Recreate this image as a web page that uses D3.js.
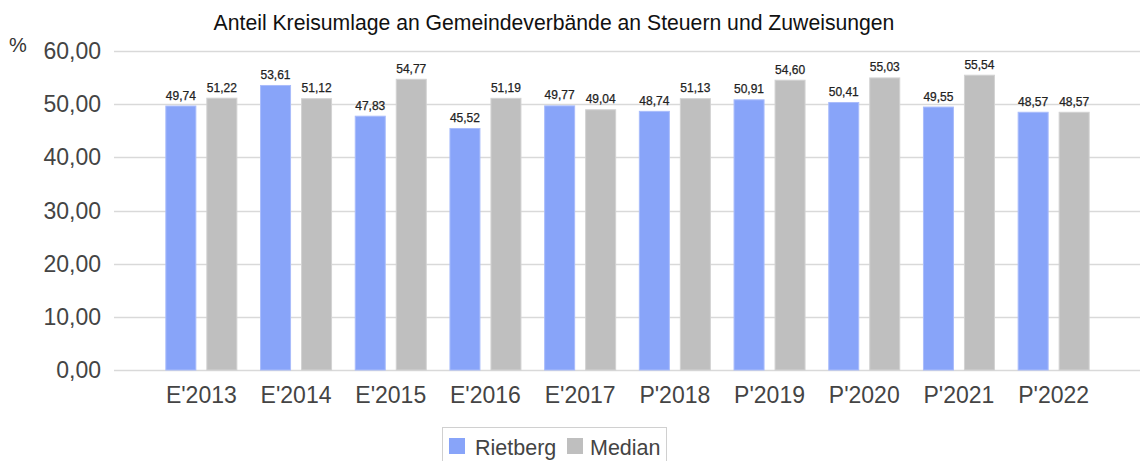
<!DOCTYPE html>
<html>
<head>
<meta charset="utf-8">
<script src="https://cdn.jsdelivr.net/npm/d3@7"></script>
<style>
  html, body { margin: 0; padding: 0; background: #fff; }
  svg { display: block; }
</style>
</head>
<body>
<svg id="chart" width="1140" height="461"></svg>
<script>
const categories = ["E'2013","E'2014","E'2015","E'2016","E'2017","P'2018","P'2019","P'2020","P'2021","P'2022"];
const rietberg = [49.74, 53.61, 47.83, 45.52, 49.77, 48.74, 50.91, 50.41, 49.55, 48.57];
const median   = [51.22, 51.12, 54.77, 51.19, 49.04, 51.13, 54.60, 55.03, 55.54, 48.57];
const seriesNames = ["Rietberg", "Median"];
const yTicks = [0, 10, 20, 30, 40, 50, 60];
const title = "Anteil Kreisumlage an Gemeindeverbände an Steuern und Zuweisungen";

const colors = { Rietberg: "#88a4f9", Median: "#bfbfbf" };
const strokes = { Rietberg: "#a9bcfb", Median: "#d2d2d2" };
const fmt = v => v.toFixed(2).replace(".", ",");

const svg = d3.select("#chart");
const font = "'Liberation Sans', Arial, sans-serif";

const y = d3.scaleLinear().domain([0, 60]).range([370, 51]);
const x = d3.scaleBand().domain(categories).range([154, 1101]).paddingInner(0).paddingOuter(0);
const xs = d3.scaleBand().domain(seriesNames).range([0, 72]).paddingInner(0.244);
const gridX0 = 114, gridX1 = 1140;

// gridlines
svg.append("g").selectAll("line").data(yTicks).join("line")
  .attr("x1", gridX0).attr("x2", gridX1)
  .attr("y1", d => Math.round(y(d)) + 0.5).attr("y2", d => Math.round(y(d)) + 0.5)
  .attr("stroke", "#d9d9d9").attr("stroke-width", 1.5);

// y tick labels
svg.append("g").selectAll("text").data(yTicks).join("text")
  .attr("x", 101).attr("y", d => y(d) + 8)
  .attr("text-anchor", "end")
  .attr("font-family", font).attr("font-size", 23).attr("fill", "#444")
  .text(d => fmt(d));

// % label
svg.append("text").attr("x", 9).attr("y", 52)
  .attr("font-family", font).attr("font-size", 20).attr("fill", "#333").text("%");

// x labels
svg.append("g").selectAll("text").data(categories).join("text")
  .attr("x", d => x(d) + x.bandwidth() / 2).attr("y", 403)
  .attr("text-anchor", "middle")
  .attr("font-family", font).attr("font-size", 23).attr("fill", "#444")
  .text(d => d);

// bars
const data = categories.map((c, i) => ({ c, vals: [
  { s: "Rietberg", v: rietberg[i] }, { s: "Median", v: median[i] } ] }));
const groups = svg.append("g").selectAll("g").data(data).join("g")
  .attr("transform", d => `translate(${x(d.c) + x.bandwidth() / 2 - 36},0)`);
groups.selectAll("rect").data(d => d.vals).join("rect")
  .attr("x", d => xs(d.s) + 0.5).attr("width", xs.bandwidth() - 1)
  .attr("y", d => y(d.v) + 0.5).attr("height", d => y(0) - y(d.v) - 0.5)
  .attr("fill", d => colors[d.s]).attr("stroke", d => strokes[d.s]).attr("stroke-width", 1);
groups.selectAll("text").data(d => d.vals).join("text")
  .attr("x", d => xs(d.s) + xs.bandwidth() / 2).attr("y", d => y(d.v) - 6)
  .attr("text-anchor", "middle")
  .attr("font-family", font).attr("font-size", 12).attr("fill", "#222")
  .attr("stroke", "#222").attr("stroke-width", 0.25)
  .text(d => fmt(d.v));

// title
svg.append("text").attr("x", 554).attr("y", 30).attr("text-anchor", "middle")
  .attr("font-family", font).attr("font-size", 21.2).attr("fill", "#111").text(title);

// legend
const lg = svg.append("g");
lg.append("rect").attr("x", 442.5).attr("y", 427.5).attr("width", 224).attr("height", 40)
  .attr("fill", "#fff").attr("stroke", "#d0d0d0");
const items = [
  { s: "Rietberg", sx: 449, tx: 475 },
  { s: "Median", sx: 567, tx: 590 }
];
items.forEach(it => {
  lg.append("rect").attr("x", it.sx).attr("y", 438).attr("width", 16).attr("height", 16)
    .attr("fill", colors[it.s]);
  lg.append("text").attr("x", it.tx).attr("y", 454.5)
    .attr("font-family", font).attr("font-size", 21.5).attr("fill", "#444").text(it.s);
});
</script>
</body>
</html>
